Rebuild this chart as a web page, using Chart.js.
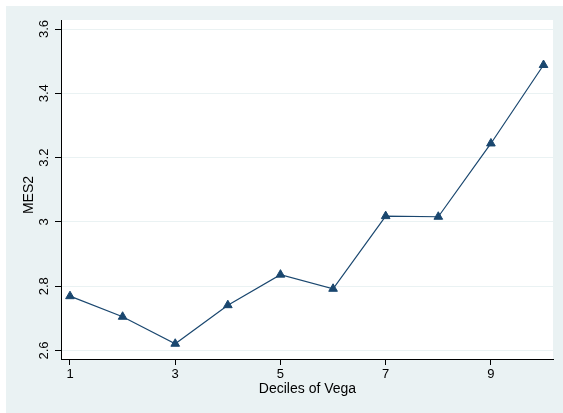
<!DOCTYPE html>
<html>
<head>
<meta charset="utf-8">
<script src="https://cdn.jsdelivr.net/npm/chart.js@4"></script>
<style>
  html, body { margin: 0; padding: 0; background: #fff; }
  #wrap { width: 563px; height: 413px; }
</style>
</head>
<body>
<div id="wrap"><canvas id="myChart" width="563" height="413"></canvas></div>
<script>
// deciles of vega and the MES2 value for each
const deciles = [1, 2, 3, 4, 5, 6, 7, 8, 9, 10];
const mes2 = [2.769, 2.705, 2.621, 2.741, 2.836, 2.792, 3.018, 3.016, 3.244, 3.488];
const xTicks = [1, 3, 5, 7, 9];
const yTicks = [2.6, 2.8, 3.0, 3.2, 3.4, 3.6];

const navy = '#1a476f';
const font = '"Liberation Sans", Arial, Helvetica, sans-serif';

// stata-like backgrounds + rotated y labels
const stataLook = {
  id: 'stataLook',
  beforeDraw(chart) {
    const c = chart.ctx;
    const a = chart.chartArea;
    c.save();
    c.fillStyle = '#fff';
    c.fillRect(0, 0, chart.width, chart.height);
    c.fillStyle = '#eaf2f3';
    c.fillRect(6, 6, chart.width - 6, chart.height - 6);
    c.fillStyle = '#fff';
    c.fillRect(a.left, a.top, a.right - a.left, a.bottom - a.top);
    c.restore();
  },
  afterDraw(chart) {
    const c = chart.ctx;
    const y = chart.scales.y;
    const a = chart.chartArea;
    c.save();
    c.fillStyle = '#000';
    c.textAlign = 'center';
    c.textBaseline = 'middle';
    c.font = '13px ' + font;
    yTicks.forEach(v => {
      const py = y.getPixelForValue(v);
      c.save();
      c.translate(44, py);
      c.rotate(-Math.PI / 2);
      c.fillText(String(Number(v.toFixed(1))), 0, 0);
      c.restore();
    });
    c.font = '14px ' + font;
    c.save();
    c.translate(29, 195);
    c.rotate(-Math.PI / 2);
    c.fillText('MES2', 0, 0);
    c.restore();
    c.fillText('Deciles of Vega', (a.left + a.right) / 2 + 0.5, 389);
    c.restore();
  }
};

const ctx = document.getElementById('myChart').getContext('2d');

new Chart(ctx, {
  type: 'line',
  data: {
    datasets: [{
      label: 'MES2',
      data: deciles.map((d, i) => ({ x: d, y: mes2[i] })),
      borderColor: navy,
      backgroundColor: navy,
      borderWidth: 1.2,
      pointStyle: 'triangle',
      pointRadius: 5,
      pointBorderWidth: 1,
      pointBackgroundColor: navy,
      pointBorderColor: navy,
      tension: 0
    }]
  },
  options: {
    responsive: false,
    animation: false,
    devicePixelRatio: 1,
    layout: { padding: { left: 0, top: 20, right: 10, bottom: 0 } },
    plugins: {
      legend: { display: false },
      tooltip: { enabled: false }
    },
    scales: {
      x: {
        type: 'linear',
        min: 0.829,
        max: 10.18,
        afterFit(scale) { scale.height = 54; },
        afterBuildTicks(scale) { scale.ticks = xTicks.map(v => ({ value: v })); },
        grid: {
          drawOnChartArea: false,
          drawTicks: true,
          tickLength: 6,
          tickColor: '#000'
        },
        border: { display: true, color: '#000', width: 1 },
        ticks: {
          color: '#000',
          padding: 2,
          maxRotation: 0,
          font: { family: font, size: 13 },
          callback: v => String(v)
        }
      },
      y: {
        type: 'linear',
        min: 2.5736,
        max: 3.628,
        afterFit(scale) { scale.width = 61; },
        afterBuildTicks(scale) { scale.ticks = yTicks.map(v => ({ value: v })); },
        grid: {
          color: '#eaf2f3',
          lineWidth: 1,
          drawTicks: true,
          tickLength: 6,
          tickColor: '#000'
        },
        border: { display: true, color: '#000', width: 1 },
        ticks: { display: false }
      }
    }
  },
  plugins: [stataLook]
});
</script>
</body>
</html>
